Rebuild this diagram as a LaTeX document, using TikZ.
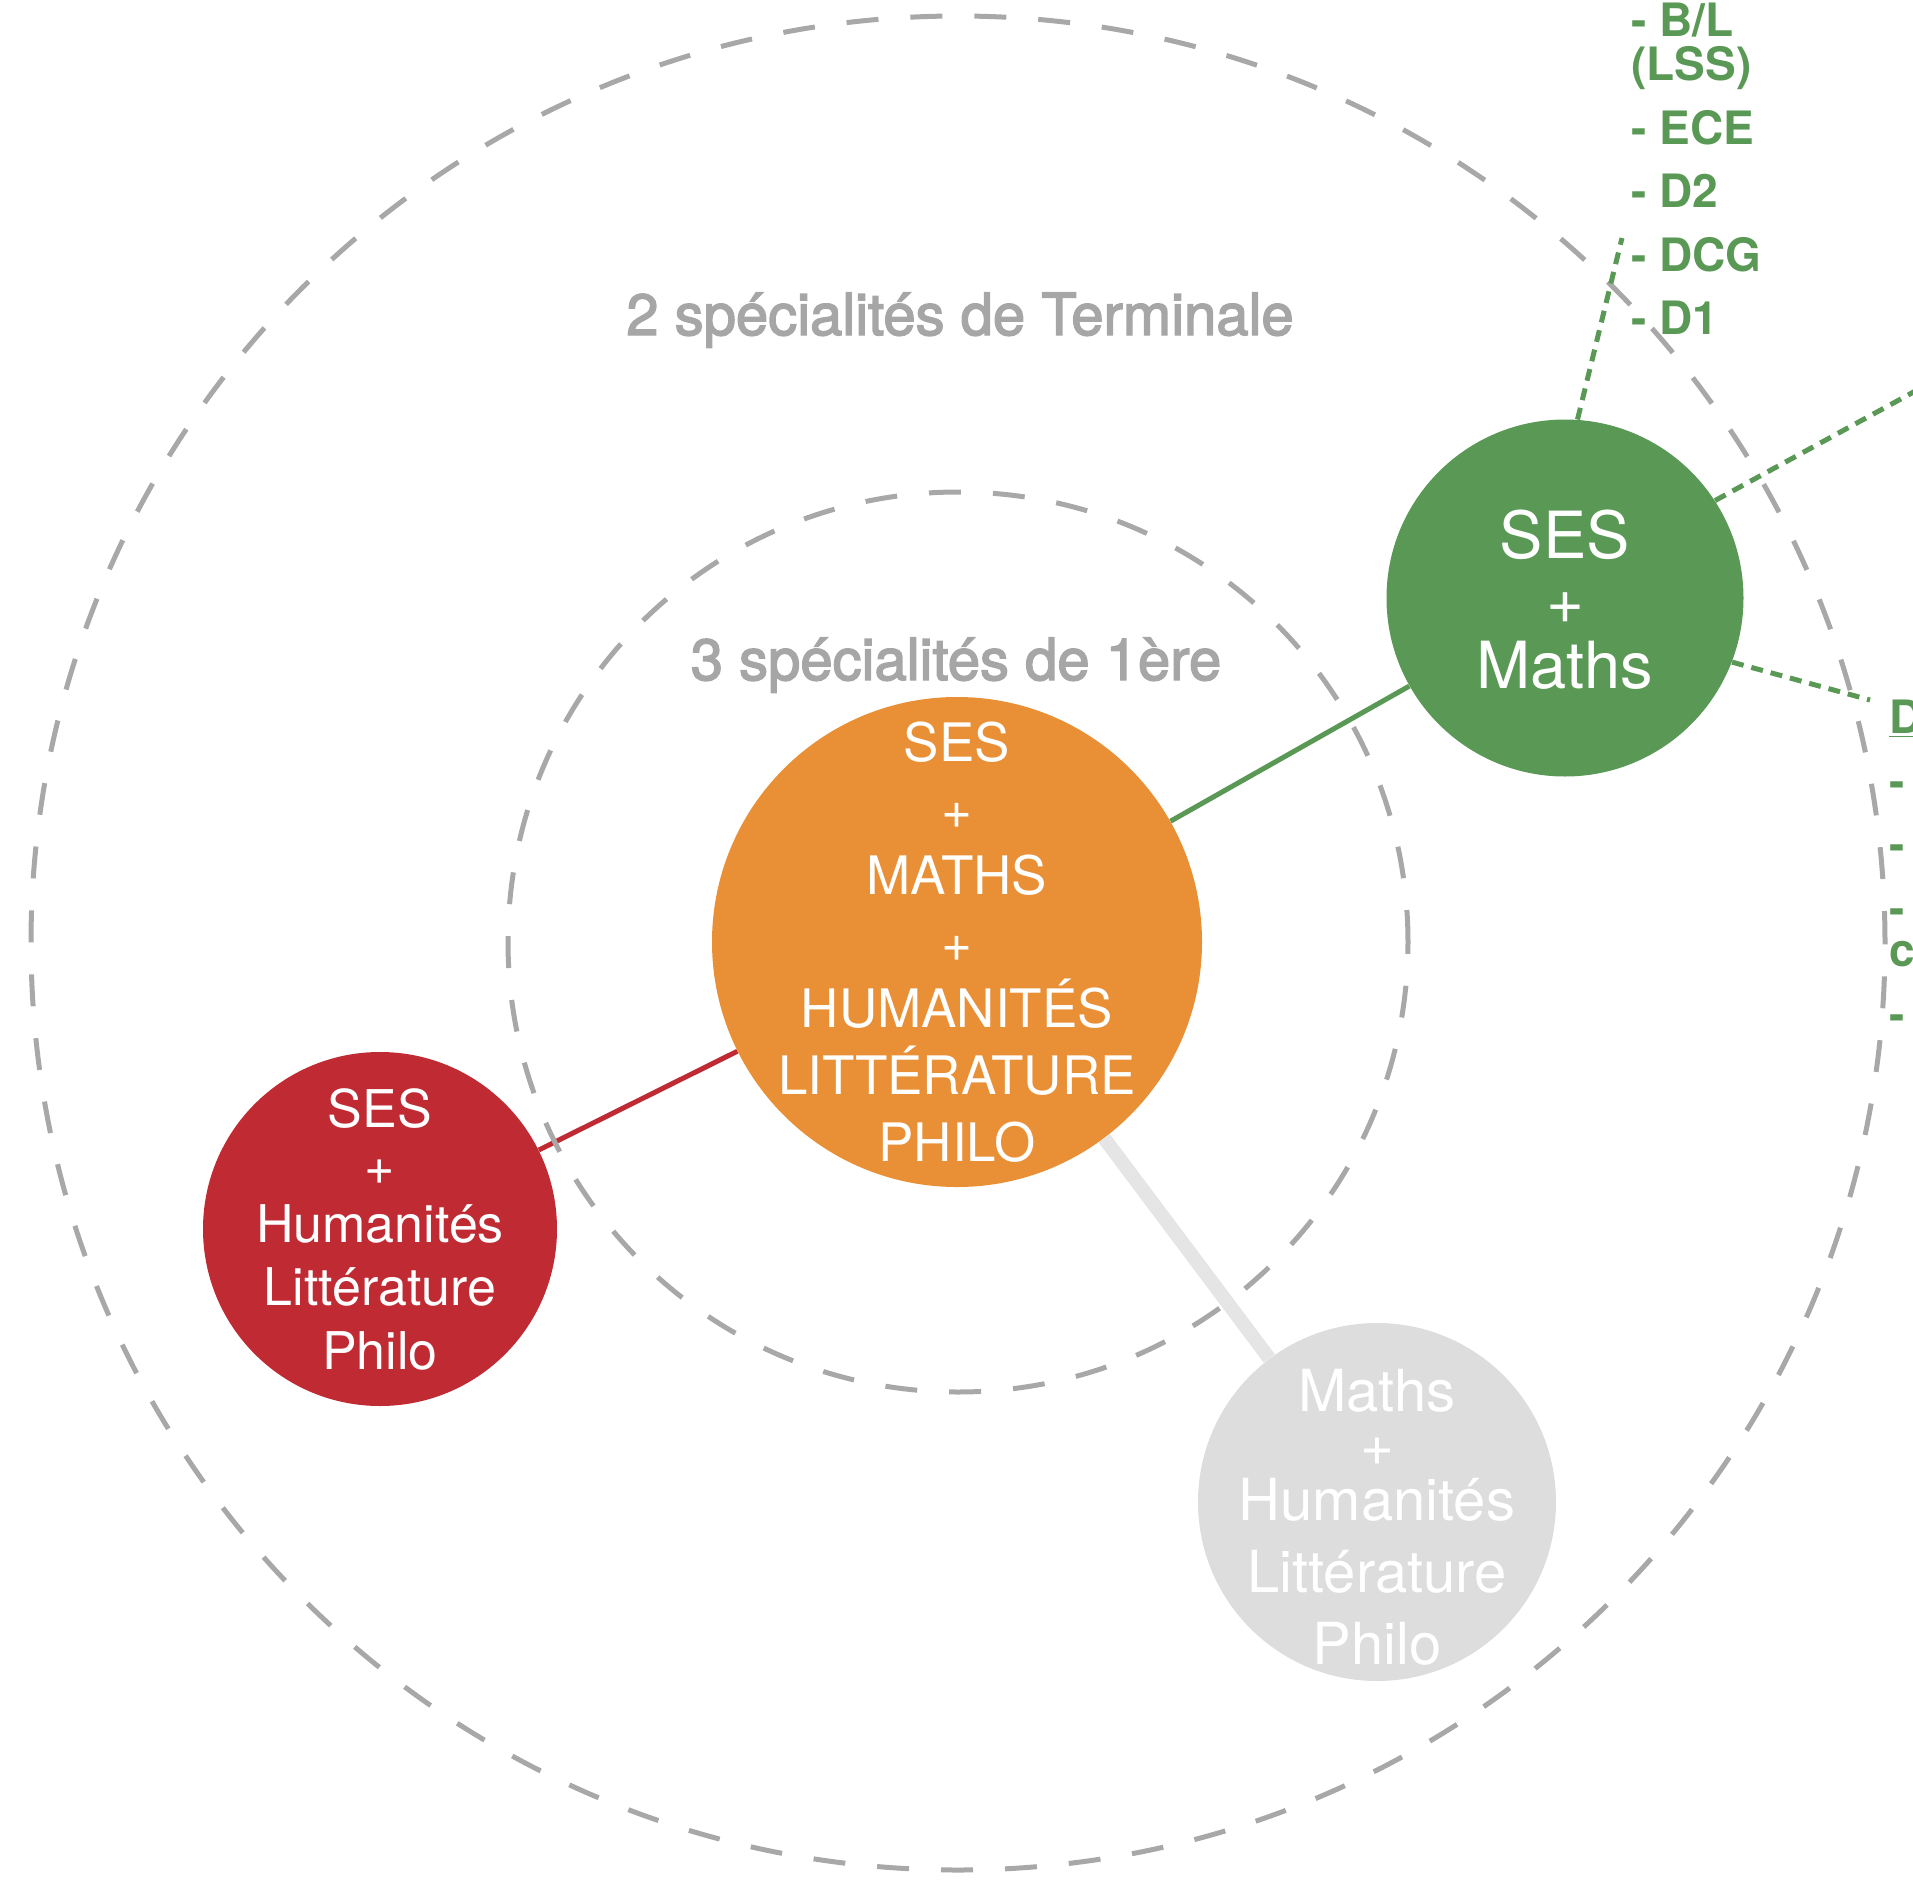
\documentclass[tikz,border=0pt]{standalone}
\usepackage{fontspec}
\setmainfont{TeX Gyre Heros}
\newfontfamily\moyen[FakeBold=2.5]{TeX Gyre Heros}
\usepackage{tikz}

\definecolor{orangespe}{HTML}{E98F35}
\definecolor{vertspe}{HTML}{5A9955}
\definecolor{rougespe}{HTML}{BF2A33}
\definecolor{grisbulle}{HTML}{DDDDDD}
\definecolor{grisclair}{HTML}{E5E5E5}
\definecolor{gristrait}{HTML}{A8A8A8}
\definecolor{grislabel}{HTML}{A6A6A6}

\tikzset{
  bulle/.style={circle, inner sep=0pt},
  contenu/.style={inner sep=0pt, align=center, text=white},
  anneau/.style={draw=gristrait, line width=2.5pt, dash pattern=on 16pt off 16pt},
  pointille/.style={draw=vertspe, line width=2.5pt, dash pattern=on 6pt off 4pt},
  titre/.style={text=grislabel, font=\moyen\fontsize{29}{34}\selectfont, anchor=base},
  filiere/.style={text=vertspe, font=\bfseries\fontsize{23}{31.75}\selectfont, align=left, inner sep=0pt, anchor=north west},
}

\begin{document}
\begin{tikzpicture}[x=0.5pt, y=-0.5pt]
        \useasboundingbox (0,0) rectangle (1913,1885);
        \clip (0,0) rectangle (1913,1885);
        % bulles
        \node[bulle, fill=orangespe, minimum size=245pt] (orange) at (957,942) {};
        \node[bulle, fill=vertspe, minimum size=178.5pt] (vert) at (1565,598) {};
        \node[bulle, fill=rougespe, minimum size=177pt] (rouge) at (380,1229) {};
        \node[bulle, fill=grisbulle, minimum size=179pt] (gris) at (1377,1502) {};
        \node[contenu, font=\fontsize{26.5}{33.3}\selectfont] (orange-txt) at (orange.center) {SES\\+\\MATHS\\+\\HUMANITÉS\\LITTÉRATURE\\PHILO};
        \node[contenu, font=\fontsize{32.5}{32.5}\selectfont] (vert-txt) at ([yshift=-1pt]vert.center) {SES\\+\\Maths};
        \node[contenu, font=\fontsize{26}{31.75}\selectfont] (rouge-txt) at (rouge.center) {SES\\[-3pt]+\\[-3pt]Humanités\\Littérature\\Philo};
        \node[contenu, font=\fontsize{29}{36}\selectfont] (gris-txt) at ([yshift=-7.5pt]gris.center) {Maths\\[-8.75pt]+\\[-8.75pt]Humanités\\Littérature\\Philo};
        % liens
        \draw[line width=2.5pt, vertspe] (orange) -- (vert);
        \draw[line width=2.5pt, rougespe] (rouge) -- (orange);
        \draw[line width=7pt, grisclair] (orange) -- (gris);
        % anneaux
        \draw[anneau] (958,943) circle [radius=463.5pt];
        \draw[anneau] (958,942) circle [radius=225pt];
        \node[titre] (terminale) at (960,335) {2 spécialités de Terminale};
        \node[titre] (premiere) at (956,680) {3 spécialités de 1ère};
        % debouches
        \coordinate (haut) at (1622,238);
        \coordinate (droite) at (1930,383);
        \coordinate (bas) at (1870,700);
        \draw[pointille] (vert.86) -- (haut);
        \draw[pointille] (vert.33) -- (droite);
        \draw[pointille] (vert.-21) -- (bas);
        \node[filiere] (prepas) at (1631,3) {- B/L\\[-9.75pt](LSS)\\- ECE\\- D2\\- DCG\\- D1};
        \node[filiere] (suite) at (1889,700) {\underline{D}\\- \\- \\-\\[-10.5pt]c\\- };
      \end{tikzpicture}
\end{document}
